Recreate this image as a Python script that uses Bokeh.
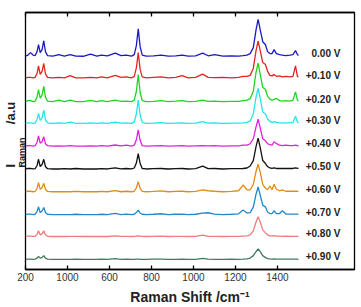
from bokeh.plotting import figure
from bokeh.models import Range1d, FixedTicker, LinearAxis, Label, Title, CustomLabelingPolicy
from bokeh.embed import file_html
from bokeh.resources import INLINE

# ---- data ----
raman_shift = [200, 212, 224, 236, 246, 255, 262, 270, 279, 287, 295, 305, 330, 359, 385, 413, 440,
               475, 510, 540, 562, 590, 627, 655, 680, 705, 718, 728, 737, 746, 756, 775, 810, 846,
               880, 915, 946, 975, 1010, 1044, 1070, 1100, 1140, 1180, 1215, 1236, 1255, 1270, 1285,
               1298, 1308, 1318, 1330, 1343, 1353, 1364, 1374, 1384, 1395, 1410, 1423, 1440, 1460,
               1474, 1486, 1495, 1500]

i_000 = [0.5, 1.5, 4, 1.5, 1, 5, 12, 4, 7, 16, 5, 1, 0.5, 2, 0.5, 2, 0.5, 0.3, 2.5, 0.5, 1.5, 0.8,
         3.5, 1, 1.5, 0.5, 2, 11, 28, 10, 1.5, 0.5, 0.8, 1.5, 0.5, 0.8, 1.5, 0.5, 0.8, 3.5, 0.8, 2,
         0.5, 0.8, 0.5, 1, 1.5, 3, 9, 27, 37.5, 27, 15, 12, 5, 3, 3, 7, 3, 2, 1.5, 1, 1.5, 2, 6, 2, 1]
i_010 = [0.5, 1, 1, 0.5, 1, 5, 12.7, 4, 7, 15, 4.5, 1, 0.5, 1, 0.5, 2.7, 0.5, 0.5, 1, 0.5, 1.5, 0.5,
         3, 1, 1.5, 0.5, 2, 10.5, 26, 9, 1.5, 0.5, 1, 1.5, 0.5, 1, 2.7, 0.5, 1, 4.3, 1, 0.8, 1, 0.5,
         1, 2, 2, 3, 10, 28, 37.6, 28, 16, 14, 7, 3, 2.5, 4, 2, 2.5, 1.5, 2, 1.5, 2, 12.7, 2, 1.5]
i_020 = [0.5, 1.5, 1.5, 0.5, 1, 5, 12.7, 4, 7, 16, 5, 1, 0.5, 2, 0.5, 2, 0.5, 0.5, 1.7, 0.5, 1.5, 0.5,
         2, 0.8, 1, 0.5, 2, 11, 27.7, 10, 1.5, 0.5, 0.8, 1.5, 0.5, 1, 1.5, 0.5, 0.8, 2, 0.8, 1, 0.5,
         0.8, 0.8, 1.5, 2, 3.5, 11, 30, 39.3, 28, 15, 12.7, 6, 3, 2, 2.7, 3.7, 1.5, 1, 1.5, 1, 2,
         10.3, 2, 1]
i_030 = [0.5, 1, 1, 0.5, 1, 4.5, 10.7, 3.5, 6, 14, 4, 1, 0.5, 1, 0.5, 1.7, 0.5, 0.5, 1, 0.5, 1, 0.5,
         1.7, 0.8, 1, 0.5, 2, 10, 24, 9, 1.5, 0.5, 0.8, 1.2, 0.5, 0.8, 1, 0.5, 0.8, 2.3, 0.8, 1, 0.5,
         0.8, 0.8, 1, 1.5, 3, 10, 27, 36, 26, 12, 10, 5, 2.5, 1.5, 2.3, 1.5, 1, 1, 1, 1, 1.5, 7.7, 2, 1]
i_040 = [0.5, 1, 1, 0.5, 1, 4.5, 11, 3.5, 5, 10, 3, 1, 0.5, 0.8, 0.5, 1, 0.5, 0.5, 0.8, 0.5, 1, 0.5,
         1.7, 0.8, 1.5, 0.5, 1.5, 7, 17, 6.5, 1, 0.5, 0.8, 1, 0.5, 0.8, 1, 0.5, 0.8, 1, 0.8, 1, 0.5,
         0.8, 0.8, 1.5, 1.5, 3, 8, 20, 27.7, 19, 8, 6, 3, 2, 1.5, 5, 3.3, 1.5, 1, 1.5, 1, 1, 1.5, 1, 0.5]
i_050 = [0.5, 1, 1, 0.5, 0.8, 4, 10.3, 3, 5, 10.3, 3, 0.8, 0.5, 0.5, 0.8, 0.5, 1, 0.5, 0.5, 0.5, 0.8,
         0.5, 1.7, 0.5, 1, 0.5, 1.5, 6.5, 16, 6, 1, 0.5, 0.8, 1, 0.5, 0.8, 1, 0.5, 0.8, 3.3, 0.8, 1,
         0.5, 0.8, 0.8, 1, 1.5, 3.5, 9, 23, 31.7, 22, 9, 6, 3, 1.5, 1, 1.5, 1, 1, 1, 1, 1, 1, 1.7, 1, 1.5]
i_060 = [0.5, 1, 1, 0.5, 0.8, 4, 9.7, 3, 4.5, 9, 3, 0.8, 0.5, 0.5, 0.5, 0.5, 0.8, 0.5, 0.5, 0.5, 0.8,
         0.5, 1.7, 0.5, 1, 0.5, 1, 4.5, 10.7, 4, 0.8, 0.5, 0.8, 1.3, 0.5, 0.8, 1, 0.5, 0.8, 2.3, 1.5,
         1, 0.5, 0.8, 1.5, 7.3, 2.5, 2.5, 8, 21, 28.3, 20, 8, 4, 2.5, 6.3, 2.5, 8, 3, 1.5, 2.3, 1, 1,
         1, 1, 1, 0.5]
i_070 = [0.5, 1, 1, 0.5, 0.8, 3.5, 8.3, 2.5, 4, 7.7, 2.5, 0.8, 0.5, 0.5, 0.5, 0.5, 0.8, 0.5, 0.5, 0.5,
         0.8, 0.5, 1.7, 0.5, 1, 0.5, 0.8, 2.5, 5, 2, 0.8, 0.5, 0.8, 1.3, 0.5, 0.8, 1, 0.5, 0.8, 2, 2.3,
         1, 0.5, 0.8, 1.2, 5, 2, 2.5, 8, 21, 28.3, 20, 10, 8, 3, 1.5, 1.5, 4.3, 1.5, 1.5, 4.3, 1, 1, 1,
         1, 1, 0.5]
i_080 = [0.5, 0.8, 0.8, 0.5, 0.5, 2.5, 6, 2, 3, 6, 2, 0.5, 0.3, 0.5, 0.3, 0.5, 0.5, 0.3, 0.5, 0.3, 0.5,
         0.3, 1, 0.5, 0.5, 0.3, 0.5, 0.8, 1, 0.8, 0.5, 0.3, 0.5, 0.8, 0.3, 0.5, 0.5, 0.3, 0.5, 1.7, 0.5,
         0.5, 0.3, 0.5, 0.5, 0.8, 1, 2, 6, 15, 20.3, 15, 7, 4, 2, 1, 1, 1.3, 0.8, 0.8, 0.5, 0.8, 0.5,
         0.5, 0.5, 0.5, 0.5]
i_090 = [0.3, 0.5, 0.5, 0.3, 0.5, 1.5, 3.3, 1.5, 2, 4, 1.5, 0.5, 0.3, 0.3, 0.3, 0.3, 0.5, 0.3, 0.3, 0.3,
         0.5, 0.3, 1, 0.3, 0.5, 0.3, 0.3, 0.5, 0.5, 0.3, 0.3, 0.3, 0.5, 0.5, 0.3, 0.3, 0.5, 0.3, 0.3,
         1.3, 0.5, 0.3, 0.3, 0.5, 0.3, 0.5, 0.8, 1.5, 4, 8, 10.7, 8, 4, 2, 1, 0.7, 0.5, 0.7, 0.5, 0.5,
         0.5, 0.5, 0.5, 0.5, 0.5, 0.5, 0.3]

spectra = [i_000, i_010, i_020, i_030, i_040, i_050, i_060, i_070, i_080, i_090]
potential_labels = ["0.00 V", "+0.10 V", "+0.20 V", "+0.30 V", "+0.40 V",
                    "+0.50 V", "+0.60 V", "+0.70 V", "+0.80 V", "+0.90 V"]
stack_offsets = [215, 193, 169, 147, 124, 101, 78, 55, 33, 10]
colors = ["#1a1ac4", "#e52222", "#22d422", "#22e6ea", "#e022e0",
          "#111111", "#e08c14", "#2288cc", "#f07c7c", "#3f7c60"]

tick_values = [200, 400, 600, 800, 1000, 1200, 1400]
tick_labels = ["200", "1000", "600", "800", "1000", "1200", "1400"]

FONT = "Liberation Sans"
TXT = "#222222"

# ---- figure ----
p = figure(width=361, height=307, output_backend="svg", toolbar_location=None,
           x_range=Range1d(200, 1767), y_range=Range1d(0, 259.5),
           min_border_left=25, min_border_right=7, min_border_top=12, min_border_bottom=10,
           x_axis_location=None, y_axis_location=None)
p.background_fill_color = "white"
p.border_fill_color = "white"
p.outline_line_color = "black"
p.outline_line_width = 1.3
p.xgrid.visible = False
p.ygrid.visible = False

for ys, off, col in zip(spectra, stack_offsets, colors):
    p.line(raman_shift, [v + off for v in ys], line_color=col, line_width=1.3)

bottom = LinearAxis(ticker=FixedTicker(ticks=tick_values),
                    major_label_overrides={v: s for v, s in zip(tick_values, tick_labels)},
                    axis_label="Raman Shift /cm\u207b\u00b9")
bottom.major_tick_in = 4
bottom.major_tick_out = 0
bottom.minor_tick_in = 0
bottom.minor_tick_out = 0
bottom.major_label_standoff = 3
bottom.major_label_text_font = FONT
bottom.major_label_text_font_size = "10px"
bottom.major_label_text_color = "#333333"
bottom.axis_label_text_font = FONT
bottom.axis_label_text_font_style = "bold"
bottom.axis_label_text_font_size = "14px"
bottom.axis_label_text_color = TXT
bottom.axis_label_standoff = 5
bottom.axis_line_color = "black"
bottom.axis_line_width = 1.3
bottom.major_tick_line_width = 1.3
p.add_layout(bottom, "below")

top = LinearAxis(ticker=FixedTicker(ticks=tick_values),
                 major_label_policy=CustomLabelingPolicy(
                     code="for (const i of Array.from(indices)) { indices.unset(i) } return indices"))
top.major_tick_in = 4
top.major_tick_out = 0
top.minor_tick_in = 0
top.minor_tick_out = 0
top.major_label_standoff = 0
top.axis_line_color = "black"
top.axis_line_width = 1.3
top.major_tick_line_width = 1.3
p.add_layout(top, "above")

# y-axis title: I (subscript Raman) /a.u, built from two side titles
nb = "\u00a0"
p.add_layout(Title(text="Raman", align="left", offset=102, standoff=-3,
                   text_font=FONT, text_font_style="bold", text_font_size="9px",
                   text_color=TXT), "left")
p.add_layout(Title(text="I" + nb * 11 + "/a.u", align="left", offset=102, standoff=-2,
                   text_font=FONT, text_font_style="bold", text_font_size="13px",
                   text_color=TXT), "left")

def px2x(px):
    return 200 + (px - 25) / 0.21

for lab, off in zip(potential_labels, stack_offsets):
    p.add_layout(Label(x=px2x(340), y=off + 3, text=lab, text_align="right",
                       text_baseline="middle", text_font=FONT,
                       text_font_style="bold", text_font_size="10px", text_color=TXT))

open("out.html", "w").write(file_html(p, INLINE))
